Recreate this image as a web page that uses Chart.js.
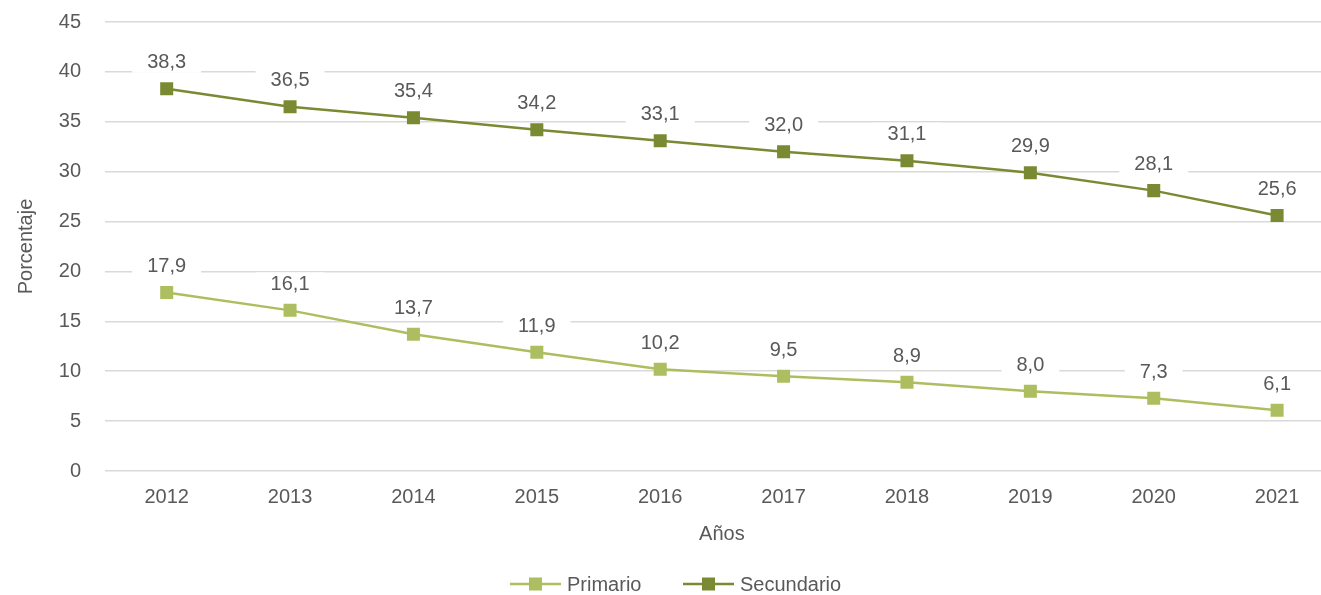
<!DOCTYPE html>
<html>
<head>
<meta charset="utf-8">
<script src="https://cdn.jsdelivr.net/npm/chart.js@4.4.0/dist/chart.umd.min.js"></script>
<style>
  html, body { margin: 0; padding: 0; background: #fff; overflow: hidden; }
  #wrap { width: 1348px; height: 595px; position: relative; }
</style>
</head>
<body>
<div id="wrap"><canvas id="chart"></canvas></div>
<script>
// Chart data
const years = ['2012', '2013', '2014', '2015', '2016', '2017', '2018', '2019', '2020', '2021'];
const primario = [17.9, 16.1, 13.7, 11.9, 10.2, 9.5, 8.9, 8.0, 7.3, 6.1];
const secundario = [38.3, 36.5, 35.4, 34.2, 33.1, 32.0, 31.1, 29.9, 28.1, 25.6];
const yTicks = [0, 5, 10, 15, 20, 25, 30, 35, 40, 45];

const FONT = '"Liberation Sans", Arial, Helvetica, sans-serif';
const FS = 20;
const TEXT = '#595959';
const C_PRIM = '#adbe60';
const C_SEC = '#7a8a33';

// value labels with white box above each point
const valueLabels = {
  id: 'valueLabels',
  afterDatasetsDraw(chart) {
    const ctx = chart.ctx;
    ctx.save();
    ctx.font = FS + 'px ' + FONT;
    ctx.textAlign = 'center';
    ctx.textBaseline = 'middle';
    chart.data.datasets.forEach((ds, i) => {
      chart.getDatasetMeta(i).data.forEach((pt, j) => {
        const txt = ds.data[j].toFixed(1).replace('.', ',');
        const w = ctx.measureText(txt).width + 30;
        const y = pt.y - 27;
        ctx.fillStyle = '#fff';
        ctx.fillRect(pt.x - w / 2, y - 11, w, 22);
        ctx.fillStyle = TEXT;
        ctx.fillText(txt, pt.x, y + 1);
      });
    });
    ctx.restore();
  }
};

// legend drawn as line + square marker
const lineLegend = {
  id: 'lineLegend',
  afterDraw(chart) {
    const ctx = chart.ctx;
    const items = [
      { label: 'Primario', color: C_PRIM, x: 510 },
      { label: 'Secundario', color: C_SEC, x: 683 }
    ];
    ctx.save();
    ctx.font = FS + 'px ' + FONT;
    ctx.textBaseline = 'middle';
    const y = 584;
    items.forEach(it => {
      ctx.strokeStyle = it.color;
      ctx.lineWidth = 2.5;
      ctx.beginPath();
      ctx.moveTo(it.x, y);
      ctx.lineTo(it.x + 51, y);
      ctx.stroke();
      ctx.fillStyle = it.color;
      ctx.fillRect(it.x + 19, y - 6.5, 13, 13);
      ctx.fillStyle = TEXT;
      ctx.fillText(it.label, it.x + 57, y + 1);
    });
    ctx.restore();
  }
};

new Chart(document.getElementById('chart'), {
  type: 'line',
  data: {
    labels: years,
    datasets: [
      {
        label: 'Primario',
        data: primario,
        borderColor: C_PRIM,
        backgroundColor: C_PRIM,
        borderWidth: 2.5,
        pointStyle: 'rect',
        pointRadius: 9.2,
        pointBorderWidth: 0,
        tension: 0
      },
      {
        label: 'Secundario',
        data: secundario,
        borderColor: C_SEC,
        backgroundColor: C_SEC,
        borderWidth: 2.5,
        pointStyle: 'rect',
        pointRadius: 9.2,
        pointBorderWidth: 0,
        tension: 0
      }
    ]
  },
  options: {
    responsive: true,
    maintainAspectRatio: false,
    animation: false,
    layout: { padding: { top: 22, right: 0, left: 0, bottom: 0 } },
    plugins: {
      legend: { display: false },
      tooltip: { enabled: false }
    },
    scales: {
      x: {
        offset: true,
        grid: { display: false },
        border: { display: false },
        ticks: { color: TEXT, font: { family: FONT, size: FS }, padding: 6 },
        title: {
          display: true,
          text: 'Años',
          color: TEXT,
          font: { family: FONT, size: FS },
          padding: { top: 0, bottom: 49 }
        },
        afterFit(scale) { scale.height = 124; }
      },
      y: {
        min: 0,
        max: 45,
        afterBuildTicks(scale) { scale.ticks = yTicks.map(v => ({ value: v })); },
        grid: { color: '#d9d9d9', lineWidth: 1.5, drawTicks: true, tickLength: 24, tickColor: 'rgba(0,0,0,0)' },
        border: { display: false },
        ticks: { color: TEXT, font: { family: FONT, size: FS }, padding: 0 },
        title: {
          display: true,
          text: 'Porcentaje',
          color: TEXT,
          font: { family: FONT, size: FS },
          padding: { top: 14, bottom: 0 }
        },
        afterFit(scale) { scale.width = 105; }
      }
    }
  },
  plugins: [valueLabels, lineLegend]
});
</script>
</body>
</html>
